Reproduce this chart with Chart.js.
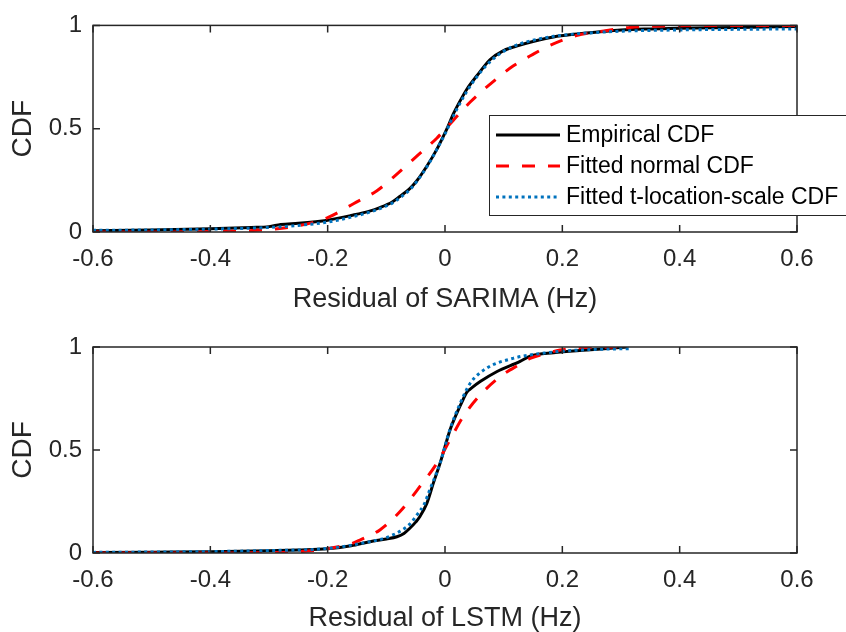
<!DOCTYPE html>
<html>
<head>
<meta charset="utf-8">
<title>Residual CDFs: SARIMA vs LSTM</title>
<script src="https://cdn.jsdelivr.net/npm/chart.js@4.4.1/dist/chart.umd.min.js"></script>
<style>
  html, body { margin: 0; padding: 0; background: #ffffff; }
  #page { position: relative; width: 846px; height: 632px; overflow: hidden; background: #ffffff; }
  .panel { position: absolute; left: 0; width: 846px; height: 316px; }
  #panelTop { top: 0; }
  #panelBottom { top: 316px; }
</style>
</head>
<body>
<div id="page">
  <div class="panel" id="panelTop"><canvas id="cdfSarima" width="846" height="316"></canvas></div>
  <div class="panel" id="panelBottom"><canvas id="cdfLstm" width="846" height="316"></canvas></div>
</div>
<script>
// ---- Axis ticks -------------------------------------------------------------
const xTickValues = [-0.6, -0.4, -0.2, 0, 0.2, 0.4, 0.6];
const xTickLabels = ['-0.6', '-0.4', '-0.2', '0', '0.2', '0.4', '0.6'];
const yTickValues = [0, 0.5, 1];
const yTickLabels = ['0', '0.5', '1'];

// ---- Series names -----------------------------------------------------------
const seriesNames = ['Empirical CDF', 'Fitted normal CDF', 'Fitted t-location-scale CDF'];

// ---- SARIMA residuals (Hz) --------------------------------------------------
const sarimaEcdfX = [-0.60, -0.50, -0.40, -0.33, -0.30, -0.28, -0.25, -0.213, -0.20, -0.16, -0.13, -0.111, -0.09, -0.077, -0.06, -0.048, -0.031, -0.014, 0.0, 0.005, 0.014, 0.023, 0.037, 0.054, 0.077, 0.099, 0.122, 0.15, 0.185, 0.22, 0.26, 0.30, 0.35, 0.40, 0.50, 0.60];
const sarimaEcdfY = [0.006, 0.010, 0.016, 0.022, 0.026, 0.036, 0.042, 0.052, 0.057, 0.080, 0.100, 0.118, 0.145, 0.172, 0.210, 0.248, 0.318, 0.400, 0.480, 0.510, 0.570, 0.620, 0.690, 0.755, 0.835, 0.877, 0.900, 0.922, 0.944, 0.957, 0.968, 0.978, 0.983, 0.986, 0.990, 0.995];

const sarimaNormX = [-0.60, -0.50, -0.40, -0.35, -0.30, -0.25, -0.20, -0.156, -0.116, -0.082, -0.048, -0.014, 0.014, 0.043, 0.077, 0.116, 0.15, 0.179, 0.224, 0.276, 0.315, 0.40, 0.50, 0.60];
const sarimaNormY = [0.000, 0.000, 0.002, 0.005, 0.012, 0.030, 0.070, 0.137, 0.200, 0.280, 0.367, 0.454, 0.540, 0.629, 0.716, 0.803, 0.860, 0.903, 0.951, 0.975, 0.990, 0.998, 1.000, 1.000];

const sarimaTlsX = [-0.60, -0.50, -0.40, -0.30, -0.25, -0.20, -0.16, -0.13, -0.111, -0.09, -0.077, -0.06, -0.048, -0.031, -0.014, 0.0, 0.014, 0.023, 0.037, 0.054, 0.077, 0.099, 0.122, 0.15, 0.185, 0.22, 0.26, 0.30, 0.40, 0.50, 0.60];
const sarimaTlsY = [0.008, 0.010, 0.014, 0.022, 0.032, 0.048, 0.072, 0.095, 0.113, 0.140, 0.165, 0.205, 0.245, 0.315, 0.400, 0.475, 0.560, 0.610, 0.680, 0.750, 0.825, 0.873, 0.905, 0.928, 0.947, 0.958, 0.966, 0.972, 0.978, 0.981, 0.983];

// ---- LSTM residuals (Hz) ----------------------------------------------------
const lstmEcdfX = [-0.60, -0.50, -0.40, -0.30, -0.25, -0.20, -0.16, -0.128, -0.10, -0.082, -0.07, -0.060, -0.05, -0.043, -0.031, -0.020, -0.0085, 0.0, 0.0085, 0.020, 0.030, 0.037, 0.045, 0.060, 0.088, 0.128, 0.145, 0.185, 0.242, 0.298, 0.31];
const lstmEcdfY = [0.002, 0.004, 0.006, 0.011, 0.015, 0.021, 0.035, 0.055, 0.068, 0.079, 0.095, 0.120, 0.150, 0.176, 0.241, 0.338, 0.435, 0.516, 0.597, 0.678, 0.740, 0.780, 0.800, 0.832, 0.880, 0.930, 0.955, 0.972, 0.985, 0.997, 1.000];

const lstmNormX = [-0.60, -0.40, -0.30, -0.25, -0.208, -0.157, -0.145, -0.111, -0.077, -0.043, -0.014, 0.0085, 0.031, 0.060, 0.094, 0.128, 0.145, 0.173, 0.196, 0.23, 0.293];
const lstmNormY = [0.000, 0.000, 0.002, 0.006, 0.018, 0.048, 0.063, 0.112, 0.200, 0.322, 0.435, 0.549, 0.662, 0.767, 0.856, 0.917, 0.945, 0.969, 0.985, 0.996, 1.000];

const lstmTlsX = [-0.60, -0.40, -0.30, -0.20, -0.128, -0.10, -0.077, -0.06, -0.048, -0.035, -0.026, -0.0085, 0.0085, 0.026, 0.043, 0.071, 0.116, 0.173, 0.242, 0.315];
const lstmTlsY = [0.003, 0.007, 0.012, 0.022, 0.055, 0.075, 0.105, 0.140, 0.184, 0.240, 0.306, 0.435, 0.600, 0.727, 0.824, 0.897, 0.945, 0.972, 0.987, 0.992];

// ---- Styling ----------------------------------------------------------------
const TEXT = '#262626';
const FONT = '"Liberation Sans", Arial, Helvetica, sans-serif';
const COLORS = ['#000000', '#ff0000', '#0072bd'];
const DASHES = [[], [13, 13], [3, 3.4]];

function pairs(xs, ys) {
  return xs.map((x, i) => ({ x: x, y: ys[i] }));
}

function makeDatasets(sets) {
  return sets.map((s, i) => ({
    label: seriesNames[i],
    data: pairs(s[0], s[1]),
    borderColor: COLORS[i],
    backgroundColor: COLORS[i],
    borderWidth: 3,
    borderDash: DASHES[i],
    pointRadius: 0,
    fill: false,
    showLine: true,
    cubicInterpolationMode: 'monotone',
    order: [2, 1, 0][i]
  }));
}

// Box around the plot area with inward tick marks on all four sides.
const frameTicks = {
  id: 'frameTicks',
  afterDatasetsDraw(chart) {
    const { ctx, chartArea: a, scales } = chart;
    const len = 7;
    ctx.save();
    ctx.strokeStyle = TEXT;
    ctx.lineWidth = 1.5;
    ctx.setLineDash([]);
    ctx.beginPath();
    xTickValues.forEach(v => {
      const px = scales.x.getPixelForValue(v);
      ctx.moveTo(px, a.bottom); ctx.lineTo(px, a.bottom - len);
      ctx.moveTo(px, a.top); ctx.lineTo(px, a.top + len);
    });
    yTickValues.forEach(v => {
      const py = scales.y.getPixelForValue(v);
      ctx.moveTo(a.left, py); ctx.lineTo(a.left + len, py);
      ctx.moveTo(a.right, py); ctx.lineTo(a.right - len, py);
    });
    ctx.stroke();
    ctx.strokeRect(a.left, a.top, a.right - a.left, a.bottom - a.top);
    ctx.restore();
  }
};

// Boxed legend, sitting over the lower right of the upper panel.
const boxedLegend = {
  id: 'boxedLegend',
  afterDraw(chart) {
    const { ctx } = chart;
    const box = { left: 489.5, top: 115.5, right: 880, bottom: 215.5 };
    const rows = [135, 166, 197];
    ctx.save();
    ctx.fillStyle = '#ffffff';
    ctx.fillRect(box.left, box.top, box.right - box.left, box.bottom - box.top);
    ctx.strokeStyle = TEXT;
    ctx.lineWidth = 1;
    ctx.setLineDash([]);
    ctx.strokeRect(box.left, box.top, box.right - box.left, box.bottom - box.top);
    chart.data.datasets.forEach((ds, i) => {
      const y = rows[i];
      ctx.save();
      ctx.strokeStyle = ds.borderColor;
      ctx.lineWidth = ds.borderWidth;
      ctx.setLineDash(ds.borderDash);
      ctx.beginPath();
      ctx.moveTo(496, y);
      ctx.lineTo(560, y);
      ctx.stroke();
      ctx.restore();
      ctx.fillStyle = '#000000';
      ctx.font = '23px ' + FONT;
      ctx.textBaseline = 'middle';
      ctx.textAlign = 'left';
      ctx.fillText(ds.label, 566, y + 1);
    });
    ctx.restore();
  }
};

function makeChart(canvasId, sets, xTitle, geom, extraPlugins) {
  return new Chart(document.getElementById(canvasId), {
    type: 'line',
    data: { datasets: makeDatasets(sets) },
    plugins: [frameTicks].concat(extraPlugins),
    options: {
      responsive: false,
      animation: false,
      devicePixelRatio: 1,
      layout: { padding: { top: geom.top, right: 49, left: 0, bottom: 0 } },
      plugins: { legend: { display: false }, tooltip: { enabled: false } },
      scales: {
        x: {
          type: 'linear',
          min: -0.6, max: 0.6,
          grid: { display: false, drawTicks: false },
          border: { display: false },
          afterBuildTicks: s => { s.ticks = xTickValues.map(v => ({ value: v })); },
          afterFit: s => { s.height = geom.xHeight; },
          ticks: {
            autoSkip: false, maxRotation: 0, padding: geom.xTickPad,
            color: TEXT, font: { family: FONT, size: 24 },
            callback: (v, i) => xTickLabels[i]
          },
          title: {
            display: true, text: xTitle, color: TEXT,
            font: { family: FONT, size: 27 },
            padding: { top: 0, bottom: geom.titlePad }
          }
        },
        y: {
          type: 'linear',
          min: 0, max: 1,
          grid: { display: false, drawTicks: false },
          border: { display: false },
          afterBuildTicks: s => { s.ticks = yTickValues.map(v => ({ value: v })); },
          afterFit: s => { s.width = 93; },
          ticks: {
            autoSkip: false, padding: 11,
            color: TEXT, font: { family: FONT, size: 24 },
            callback: (v, i) => yTickLabels[i]
          },
          title: {
            display: true, text: 'CDF', color: TEXT,
            font: { family: FONT, size: 28 },
            padding: { top: 6, bottom: 0 }
          }
        }
      }
    }
  });
}

makeChart('cdfSarima',
  [[sarimaEcdfX, sarimaEcdfY], [sarimaNormX, sarimaNormY], [sarimaTlsX, sarimaTlsY]],
  'Residual of SARIMA (Hz)',
  { top: 22, xHeight: 84, xTickPad: 13, titlePad: 0 },
  [boxedLegend]);

makeChart('cdfLstm',
  [[lstmEcdfX, lstmEcdfY], [lstmNormX, lstmNormY], [lstmTlsX, lstmTlsY]],
  'Residual of LSTM (Hz)',
  { top: 31, xHeight: 79, xTickPad: 13, titlePad: -3 },
  []);
</script>
</body>
</html>
